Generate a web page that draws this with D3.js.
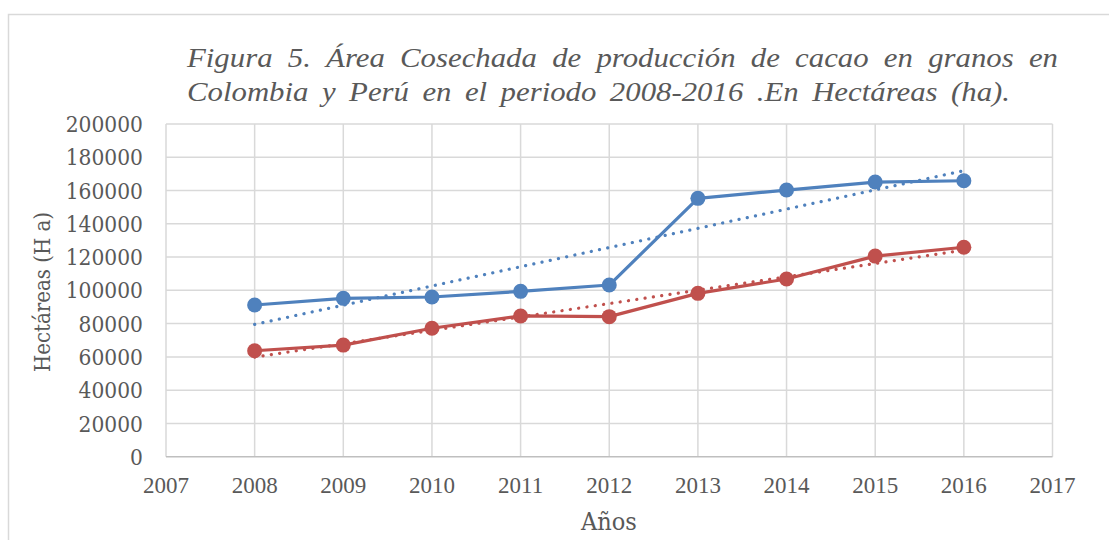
<!DOCTYPE html>
<html>
<head>
<meta charset="utf-8">
<script src="https://cdnjs.cloudflare.com/ajax/libs/d3/7.8.5/d3.min.js"></script>
<style>
  body { margin: 0; background: #fff; }
  svg { display: block; }
  .tick-y { font-family: "DejaVu Serif Condensed", "DejaVu Serif", serif; font-size: 22.5px; fill: #595959; }
  .tick-x { font-family: "Liberation Serif", serif; font-size: 23px; fill: #595959; }
  .axis-title { font-family: "DejaVu Serif Condensed", "DejaVu Serif", serif; font-size: 22px; fill: #595959; }
  .title { font-family: "Liberation Serif", serif; font-style: italic; font-size: 28px; fill: #595959; }
</style>
</head>
<body>
<script>
var years = [2008, 2009, 2010, 2011, 2012, 2013, 2014, 2015, 2016];
var colombia = [91200, 95200, 96000, 99400, 103200, 155300, 160300, 165100, 165900];
var peru = [63700, 67100, 77200, 84600, 84200, 98200, 106800, 120600, 125900];
var xTicks = [2007, 2008, 2009, 2010, 2011, 2012, 2013, 2014, 2015, 2016, 2017];
var yTicks = [0, 20000, 40000, 60000, 80000, 100000, 120000, 140000, 160000, 180000, 200000];
var titleLines = [
  "Figura 5. Área Cosechada de producción de cacao en granos en",
  "Colombia y Perú en el periodo 2008-2016 .En Hectáreas (ha)."
];

var width = 1109,
    height = 540;

var blue = "#4f81bd",
    red = "#c0504d";

var svg = d3.select("body").append("svg")
    .attr("width", width)
    .attr("height", height);

// outer chart frame
svg.append("rect")
    .attr("x", 8.5).attr("y", 14.5)
    .attr("width", width).attr("height", height)
    .attr("fill", "none")
    .attr("stroke", "#d9d9d9")
    .attr("stroke-width", 1.5);

var x = d3.scaleLinear().domain([2007, 2017]).range([166, 1052.5]);
var y = d3.scaleLinear().domain([0, 200000]).range([456.7, 124]);

// grid
svg.append("g").selectAll("line.h")
    .data(yTicks.slice(1))
  .enter().append("line")
    .attr("x1", x(2007)).attr("x2", x(2017))
    .attr("y1", function(d) { return y(d); })
    .attr("y2", function(d) { return y(d); })
    .attr("stroke", "#d9d9d9")
    .attr("stroke-width", 1.5);

svg.append("g").selectAll("line.v")
    .data(xTicks)
  .enter().append("line")
    .attr("x1", function(d) { return x(d); })
    .attr("x2", function(d) { return x(d); })
    .attr("y1", y(200000)).attr("y2", y(0))
    .attr("stroke", "#d9d9d9")
    .attr("stroke-width", 1.5);

svg.append("line")
    .attr("x1", x(2007)).attr("x2", x(2017))
    .attr("y1", y(0)).attr("y2", y(0))
    .attr("stroke", "#bfbfbf")
    .attr("stroke-width", 1.5);

// tick labels
svg.append("g").selectAll("text")
    .data(yTicks)
  .enter().append("text")
    .attr("class", "tick-y")
    .attr("x", 143)
    .attr("y", function(d) { return y(d); })
    .attr("dy", "0.36em")
    .attr("text-anchor", "end")
    .text(function(d) { return d; });

svg.append("g").selectAll("text")
    .data(xTicks)
  .enter().append("text")
    .attr("class", "tick-x")
    .attr("x", function(d) { return x(d); })
    .attr("y", 493)
    .attr("text-anchor", "middle")
    .text(function(d) { return d; });

// axis titles
svg.append("text")
    .attr("class", "axis-title")
    .attr("x", 609).attr("y", 530)
    .style("font-size", "25px")
    .attr("text-anchor", "middle")
    .text("Años");

svg.append("text")
    .attr("class", "axis-title")
    .attr("transform", "translate(50,292) rotate(-90)")
    .attr("text-anchor", "middle")
    .text("Hectáreas (H a)");

// chart title: slightly wide glyphs, both lines justified
var titleX = 187, titleRights = [1058, 1010], sx = 1.1;
var tg = svg.append("g")
    .attr("transform", "translate(" + titleX + ",0) scale(" + sx + ",1)");
titleLines.forEach(function(line, i) {
  var t = tg.append("text")
      .attr("class", "title")
      .attr("x", 0)
      .attr("y", 67 + i * 34)
      .text(line);
  var w = t.node().getComputedTextLength();
  var gaps = line.split(" ").length - 1;
  t.attr("word-spacing", Math.max(0, ((titleRights[i] - titleX) / sx - w) / gaps));
});

// linear trend (least squares) from the series values
function trend(vals) {
  var n = years.length,
      mx = d3.mean(years),
      my = d3.mean(vals);
  var sxy = d3.sum(years, function(d, i) { return (d - mx) * (vals[i] - my); });
  var sxx = d3.sum(years, function(d) { return (d - mx) * (d - mx); });
  var b = sxy / sxx, a = my - b * mx;
  return [years[0], years[n - 1]].map(function(d) { return [d, a + b * d]; });
}

var line = d3.line()
    .x(function(d) { return x(d[0]); })
    .y(function(d) { return y(d[1]); });

[[colombia, blue], [peru, red]].forEach(function(s) {
  var pts = years.map(function(d, i) { return [d, s[0][i]]; });

  svg.append("path")
      .attr("d", line(pts))
      .attr("fill", "none")
      .attr("stroke", s[1])
      .attr("stroke-width", 3.2)
      .attr("stroke-linejoin", "round");

  svg.append("g").selectAll("circle")
      .data(pts)
    .enter().append("circle")
      .attr("cx", function(d) { return x(d[0]); })
      .attr("cy", function(d) { return y(d[1]); })
      .attr("r", 7.5)
      .attr("fill", s[1]);
});

[[colombia, blue], [peru, red]].forEach(function(s) {
  svg.append("path")
      .attr("d", line(trend(s[0])))
      .attr("fill", "none")
      .attr("stroke", s[1])
      .attr("stroke-width", 3.2)
      .attr("stroke-linecap", "round")
      .attr("stroke-dasharray", "0.1 8.3");
});
</script>
</body>
</html>
